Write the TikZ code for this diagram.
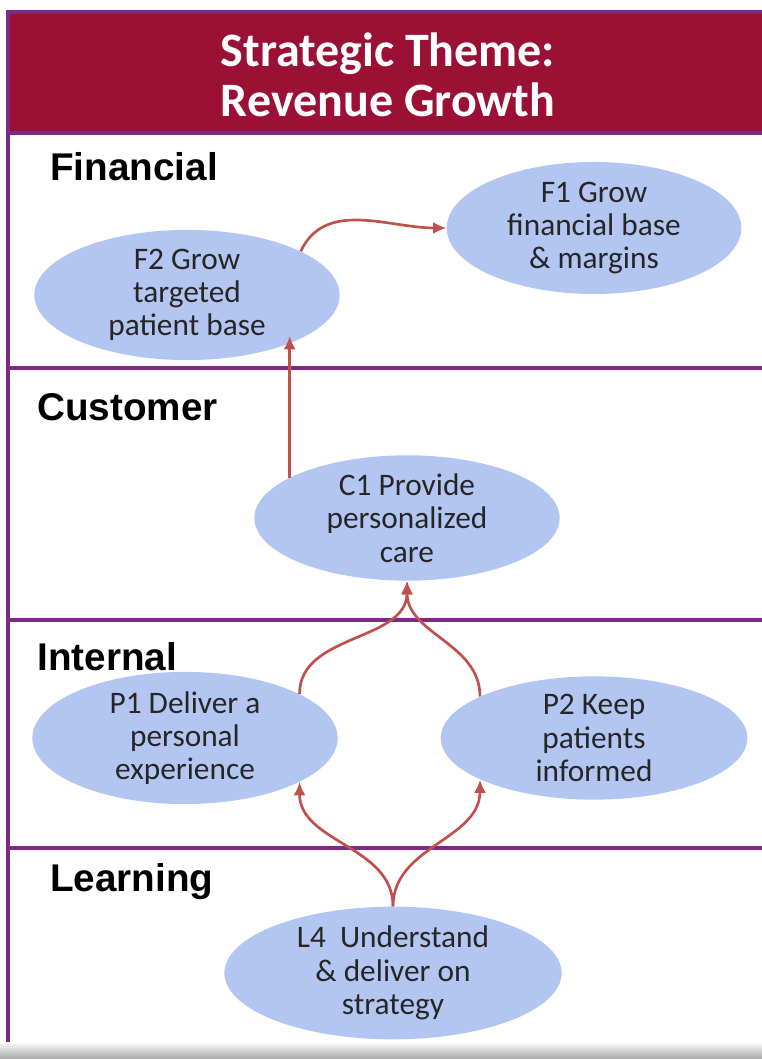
\documentclass[tikz,border=0pt]{standalone}
\usepackage{tikz}
\usepackage{fontspec}
\usetikzlibrary{arrows.meta,shapes.geometric}
\setmainfont{Carlito}
\newfontfamily\lanefont{Liberation Sans}
\definecolor{themered}{HTML}{9B1035}
\definecolor{lanepurple}{HTML}{7D2A86}
\definecolor{bubbleblue}{HTML}{B3C6F2}
\definecolor{linkred}{HTML}{C0504D}
\tikzset{
  bubble/.style={ellipse, fill=bubbleblue, inner sep=0pt, align=center, text=black!85,
    font=\fontsize{23.5pt}{25pt}\selectfont},
  lane/.style={anchor=west, inner sep=0pt, font=\lanefont\bfseries\fontsize{29pt}{32pt}\selectfont},
  link/.style={draw=linkred, line width=2pt, -{Latex[length=10pt,width=9pt]}},
  divider/.style={draw=lanepurple, line width=2.5pt}
}

\begin{document}
\begin{tikzpicture}[x=0.75pt,y=0.75pt]
\useasboundingbox (0,0) rectangle (762,1059);
\shade[top color=white, bottom color=gray!70] (0,0) rectangle (762,17); % bottom shadow
\fill[themered] (8,926) rectangle (770,1047); % header band
\draw[divider] (770,1047) -- (8,1047) -- (8,17); % frame
\foreach \y in {926,691,439,211} \draw[divider] (8,\y) -- (770,\y); % lane borders
\node[align=center, text=white, font=\bfseries\fontsize{36pt}{38pt}\selectfont] (title) at (388,984) {Strategic Theme:\\Revenue Growth};

% lanes
\node[lane] (fin) at (50,892) {Financial};
\node[lane] (cus) at (37,652) {Customer};
\node[lane] (int) at (37,402) {Internal};
\node[lane] (lea) at (50,177) {Learning};

% objectives
\node[bubble, minimum width=229pt, minimum height=83pt] (F2) at (187,764) {F2 Grow\\targeted\\patient base};
\node[bubble, minimum width=221pt, minimum height=99pt] (F1) at (594,831) {F1 Grow\\financial base\\\& margins};
\node[bubble, minimum width=229pt, minimum height=80pt] (C1) at (407,541) {C1 Provide\\personalized\\care};
\node[bubble, minimum width=229pt, minimum height=84pt] (P1) at (185,321) {P1 Deliver a\\personal\\experience};
\node[bubble, minimum width=230pt, minimum height=84pt] (P2) at (594,321) {P2 Keep\\patients\\informed};
\node[bubble, minimum width=253pt, minimum height=92pt] (L4) at (393,86) {L4\ \ Understand\\\& deliver on\\strategy};

% links
\draw[link] (F2.21) to[out=65,in=180] (F1.west); % F2 -> F1
\draw[link] (C1.161) -- (C1.161 |- F2.-19); % C1 -> F2
\draw[link] (P1.21) to[out=90,in=-90] (C1.south); % P1 -> C1
\draw[link] (P2.160) to[out=90,in=-90] (C1.south); % P2 -> C1
\draw[link] (L4.north) to[out=90,in=-90] (P1.-21); % L4 -> P1
\draw[link] (L4.north) to[out=90,in=-90] (P2.-160); % L4 -> P2
\end{tikzpicture}
\end{document}
